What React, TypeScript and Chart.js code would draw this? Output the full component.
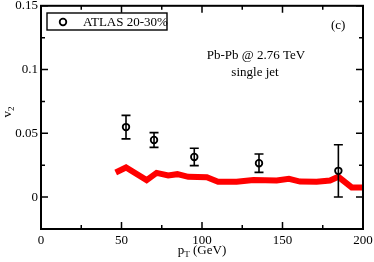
import React, { useEffect, useRef } from "react";
import { Chart, registerables } from "chart.js";

Chart.register(...registerables);

// ATLAS 20-30% data points
const atlasPt = [52.8, 70.2, 95.2, 135.4, 184.7];
const atlasV2 = [0.0549, 0.0448, 0.0315, 0.0266, 0.0206];
const atlasErr = [0.0092, 0.0058, 0.0068, 0.0072, 0.0205];

// model curve (red)
const modelPt = [46.4, 52.8, 65.6, 71.8, 79, 84.7, 91.5, 103, 110, 121.5, 131.9, 146.4, 154, 160.9, 171.2, 179.5, 184.7, 193, 200];
const modelV2 = [0.0193, 0.0232, 0.0133, 0.019, 0.017, 0.018, 0.0159, 0.0156, 0.012, 0.012, 0.0135, 0.013, 0.0143, 0.0122, 0.012, 0.013, 0.0159, 0.0076, 0.0076];

const xTicks = [0, 50, 100, 150, 200];
const xTickLabels = ["0", "50", "100", "150", "200"];
const xMinorTicks = [25, 75, 125, 175];
const yTicks = [0, 0.05, 0.1, 0.15];
const yTickLabels = ["0", "0.05", "0.1", "0.15"];
const yMinorTicks = [-0.025, 0.025, 0.075, 0.125];

const legendLabel = "ATLAS 20-30%";
const panelLabel = "(c)";
const noteLine1 = "Pb-Pb @ 2.76 TeV";
const noteLine2 = "single jet";

const SERIF = "'Liberation Serif', 'Times New Roman', serif";

const decor = {
  id: "decor",
  afterDatasetsDraw(chart: any) {
    const { ctx, scales } = chart;
    const x = scales.x, y = scales.y;
    ctx.save();
    ctx.strokeStyle = "#000";
    ctx.lineWidth = 1.6;
    atlasPt.forEach((p, i) => {
      const px = x.getPixelForValue(p);
      const t = y.getPixelForValue(atlasV2[i] + atlasErr[i]);
      const b = y.getPixelForValue(atlasV2[i] - atlasErr[i]);
      ctx.beginPath();
      ctx.moveTo(px, t); ctx.lineTo(px, b);
      ctx.moveTo(px - 4.5, t); ctx.lineTo(px + 4.5, t);
      ctx.moveTo(px - 4.5, b); ctx.lineTo(px + 4.5, b);
      ctx.stroke();
    });
    ctx.restore();
  },
  afterDraw(chart: any) {
    const { ctx, chartArea: a, scales } = chart;
    const x = scales.x, y = scales.y;
    ctx.save();
    ctx.strokeStyle = "#000";
    ctx.fillStyle = "#000";
    // frame
    ctx.lineWidth = 2;
    ctx.strokeRect(a.left, a.top, a.right - a.left, a.bottom - a.top);
    // ticks
    ctx.lineWidth = 1.5;
    ctx.beginPath();
    const xt = (v: number, len: number) => {
      const px = x.getPixelForValue(v);
      ctx.moveTo(px, a.bottom); ctx.lineTo(px, a.bottom - len);
      ctx.moveTo(px, a.top); ctx.lineTo(px, a.top + len);
    };
    const yt = (v: number, len: number) => {
      const py = y.getPixelForValue(v);
      ctx.moveTo(a.left, py); ctx.lineTo(a.left + len, py);
      ctx.moveTo(a.right, py); ctx.lineTo(a.right - len, py);
    };
    xTicks.forEach((v) => xt(v, 7));
    xMinorTicks.forEach((v) => xt(v, 4));
    yTicks.forEach((v) => yt(v, 7));
    yMinorTicks.forEach((v) => yt(v, 4));
    ctx.stroke();

    // legend
    ctx.lineWidth = 1.4;
    ctx.strokeRect(47, 13, 120, 17);
    ctx.lineWidth = 1.8;
    ctx.beginPath();
    ctx.arc(63, 22, 3.3, 0, Math.PI * 2);
    ctx.stroke();
    ctx.font = `13px ${SERIF}`;
    ctx.textBaseline = "middle";
    ctx.textAlign = "left";
    ctx.fillText(legendLabel, 83, 22.5);

    // annotations
    ctx.fillText(panelLabel, 331, 26);
    ctx.textAlign = "center";
    ctx.fillText(noteLine1, 256, 56);
    ctx.fillText(noteLine2, 255, 73);

    // x title: p_T (GeV)
    ctx.textBaseline = "alphabetic";
    ctx.textAlign = "left";
    const big = `13px ${SERIF}`, small = `9px ${SERIF}`;
    ctx.font = big;
    const wp = ctx.measureText("p").width;
    const wr = ctx.measureText(" (GeV)").width;
    ctx.font = small;
    const wt = ctx.measureText("T").width;
    let sx = 202 - (wp + wt + wr) / 2;
    const by = 254;
    ctx.font = big; ctx.fillText("p", sx, by); sx += wp;
    ctx.font = small; ctx.fillText("T", sx, by + 3); sx += wt;
    ctx.font = big; ctx.fillText(" (GeV)", sx, by);

    // y title: v_2 (rotated)
    ctx.translate(11, 112);
    ctx.rotate(-Math.PI / 2);
    ctx.font = big;
    const wv = ctx.measureText("v").width;
    ctx.font = small;
    const w2 = ctx.measureText("2").width;
    let ty = -(wv + w2) / 2;
    ctx.font = big; ctx.fillText("v", ty, 0); ty += wv;
    ctx.font = small; ctx.fillText("2", ty, 3);
    ctx.restore();
  },
};

export default function App() {
  const ref = useRef<HTMLCanvasElement | null>(null);
  useEffect(() => {
    document.body.style.margin = "0";
    const canvas = ref.current;
    if (!canvas) return;
    const chart = new Chart(canvas, {
      type: "scatter",
      data: {
        datasets: [
          {
            label: legendLabel,
            data: atlasPt.map((p, i) => ({ x: p, y: atlasV2[i] })),
            pointStyle: "circle",
            pointRadius: 3.3,
            pointBorderWidth: 1.8,
            borderColor: "#000",
            backgroundColor: "rgba(0,0,0,0)",
            showLine: false,
            order: 0,
          },
          {
            label: "model",
            data: modelPt.map((p, i) => ({ x: p, y: modelV2[i] })),
            showLine: true,
            borderColor: "#ff0000",
            borderWidth: 6,
            pointRadius: 0,
            tension: 0,
            fill: false,
            order: 1,
          } as any,
        ],
      },
      options: {
        responsive: false,
        animation: false,
        layout: { padding: { left: 0, top: 5, right: 11, bottom: 0 } },
        plugins: { legend: { display: false }, tooltip: { enabled: false } },
        scales: {
          x: {
            type: "linear",
            min: 0,
            max: 200,
            grid: { display: false, drawTicks: false },
            border: { display: false },
            afterBuildTicks: (s: any) => { s.ticks = xTicks.map((v) => ({ value: v })); },
            afterFit: (s: any) => { s.height = 33; s.paddingLeft = 0; s.paddingRight = 0; },
            ticks: {
              padding: 4,
              color: "#000",
              font: { family: SERIF, size: 13 },
              maxRotation: 0,
              callback: (_v: any, i: number) => xTickLabels[i],
            },
          },
          y: {
            type: "linear",
            min: -0.025,
            max: 0.15,
            grid: { display: false, drawTicks: false },
            border: { display: false },
            afterBuildTicks: (s: any) => { s.ticks = yTicks.map((v) => ({ value: v })); },
            afterFit: (s: any) => { s.width = 41; s.paddingTop = 0; s.paddingBottom = 0; },
            ticks: {
              padding: 3,
              color: "#000",
              font: { family: SERIF, size: 13 },
              callback: (_v: any, i: number) => yTickLabels[i],
            },
          },
        },
      },
      plugins: [decor],
    });
    return () => chart.destroy();
  }, []);
  return (
    <div style={{ width: 374, height: 262 }}>
      <canvas ref={ref} width={374} height={262} style={{ display: "block" }} />
    </div>
  );
}
